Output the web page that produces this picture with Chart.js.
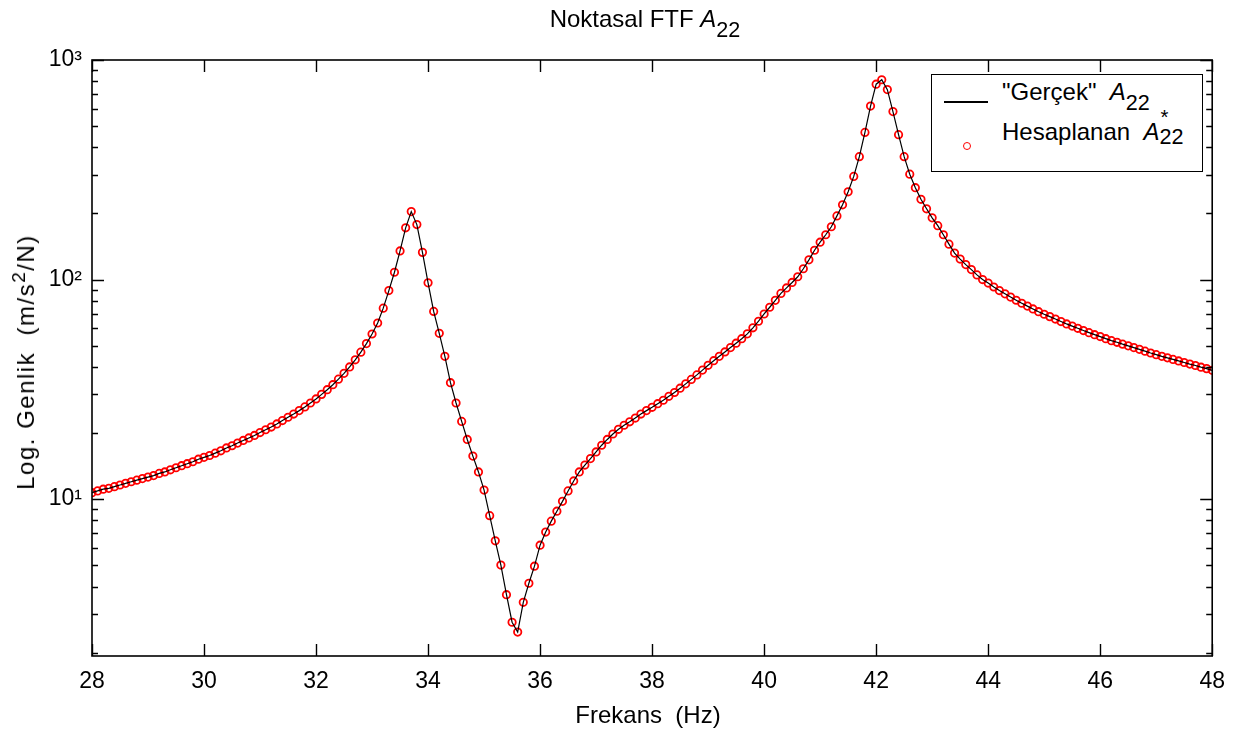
<!DOCTYPE html>
<html><head><meta charset="utf-8">
<script src="https://cdn.jsdelivr.net/npm/chart.js@4.4.0/dist/chart.umd.min.js"></script>
<style>
html,body{margin:0;padding:0;background:#fff;}
#wrap{position:relative;width:1237px;height:738px;font-family:"Liberation Sans",Arial,sans-serif;color:#000;overflow:hidden;}
canvas{position:absolute;left:0;top:0;}
.t{position:absolute;white-space:nowrap;font-size:24px;line-height:1;}
.sb{font-size:0.9em;position:relative;top:0.45em;}
.ss{display:inline-block;position:relative;width:1.15em;height:1em;vertical-align:baseline;}
.ss .up{position:absolute;left:0.05em;top:-0.45em;font-size:0.85em;}
.ss .dn{position:absolute;left:0;top:0.45em;font-size:0.9em;}
#legend{position:absolute;left:931px;top:74px;width:270px;height:96px;border:1.5px solid #000;background:#fff;}
</style></head><body>
<div id="wrap">
<canvas id="c" width="1237" height="738"></canvas>
<div class="t" id="title" style="left:0;width:1290px;text-align:center;top:7px;">Noktasal FTF <i>A</i><span class="sb">22</span></div>
<div class="t" id="xlab" style="left:0;width:1296px;text-align:center;top:703px;">Frekans&nbsp; (Hz)</div>
<div class="t" id="ylab" style="left:26px;top:362px;letter-spacing:1.5px;transform:translate(-50%,-50%) rotate(-90deg);">Log. Genlik&nbsp; (m/s<span style="font-size:0.8em;position:relative;top:-0.45em;">2</span>/N)</div>
<div id="legend">
  <div style="position:absolute;left:12px;top:26px;width:44px;height:0;border-top:2px solid #000;"></div>
  <div class="t" style="left:70px;top:5px;">"Gerçek"&nbsp; <i>A</i><span class="sb">22</span></div>
  <div style="position:absolute;left:31px;top:67px;width:6px;height:6px;border:1.5px solid #f00;border-radius:50%;"></div>
  <div class="t" style="left:70px;top:41px;">Hesaplanan&nbsp; <i>A</i><span class="ss"><span class="up">*</span><span class="dn">22</span></span></div>
</div>
</div>
<script>
const freq = [
28.0,28.1,28.2,28.3,28.4,28.5,28.6,28.7,28.8,28.9,
29.0,29.1,29.2,29.3,29.4,29.5,29.6,29.7,29.8,29.9,
30.0,30.1,30.2,30.3,30.4,30.5,30.6,30.7,30.8,30.9,
31.0,31.1,31.2,31.3,31.4,31.5,31.6,31.7,31.8,31.9,
32.0,32.1,32.2,32.3,32.4,32.5,32.6,32.7,32.8,32.9,
33.0,33.1,33.2,33.3,33.4,33.5,33.6,33.7,33.8,33.9,
34.0,34.1,34.2,34.3,34.4,34.5,34.6,34.7,34.8,34.9,
35.0,35.1,35.2,35.3,35.4,35.5,35.6,35.7,35.8,35.9,
36.0,36.1,36.2,36.3,36.4,36.5,36.6,36.7,36.8,36.9,
37.0,37.1,37.2,37.3,37.4,37.5,37.6,37.7,37.8,37.9,
38.0,38.1,38.2,38.3,38.4,38.5,38.6,38.7,38.8,38.9,
39.0,39.1,39.2,39.3,39.4,39.5,39.6,39.7,39.8,39.9,
40.0,40.1,40.2,40.3,40.4,40.5,40.6,40.7,40.8,40.9,
41.0,41.1,41.2,41.3,41.4,41.5,41.6,41.7,41.8,41.9,
42.0,42.1,42.2,42.3,42.4,42.5,42.6,42.7,42.8,42.9,
43.0,43.1,43.2,43.3,43.4,43.5,43.6,43.7,43.8,43.9,
44.0,44.1,44.2,44.3,44.4,44.5,44.6,44.7,44.8,44.9,
45.0,45.1,45.2,45.3,45.4,45.5,45.6,45.7,45.8,45.9,
46.0,46.1,46.2,46.3,46.4,46.5,46.6,46.7,46.8,46.9,
47.0,47.1,47.2,47.3,47.4,47.5,47.6,47.7,47.8,47.9,
48.0];

// "Gerçek" A22 magnitude (m/s^2/N)
const gercek = [
10.7,10.9,11.1,11.2,11.4,11.6,11.8,12.0,12.2,12.4,
12.6,12.8,13.1,13.3,13.6,13.9,14.2,14.5,14.8,15.2,
15.5,15.8,16.2,16.6,17.1,17.5,18.0,18.5,19.0,19.5,
20.1,20.7,21.3,22.0,22.8,23.6,24.4,25.3,26.3,27.4,
28.6,30.0,31.5,33.2,35.2,37.4,40.0,43.1,46.7,51.1,
56.5,63.4,74.1,89.1,108,135,172,204,178,133,
96.6,71.6,56.9,44.7,33.9,27.4,22.6,18.7,15.7,13.3,
11.0,8.41,6.46,5.01,3.67,2.75,2.48,3.39,4.14,4.95,
6.17,7.08,7.94,8.81,9.77,10.9,12.1,13.3,14.3,15.3,
16.4,17.6,18.7,19.8,20.8,21.7,22.5,23.4,24.4,25.3,
26.2,27.2,28.2,29.4,30.6,32.0,33.5,35.1,36.8,38.7,
40.7,42.7,44.7,46.8,49.0,51.3,53.8,56.6,60.3,64.6,
69.7,74.8,80.4,86.5,91.6,97.0,103,112,123,136,
148,160,174,195,219,251,295,363,468,617,
776,813,733,582,457,363,302,262,232,210,
191,176,160,145,132,124,117,111,105,100,
96.4,92.5,89.1,86.1,83.2,80.5,78.0,75.7,73.5,71.4,
69.5,67.8,66.1,64.4,62.8,61.4,60.0,58.6,57.3,56.1,
55.0,53.8,52.7,51.8,50.8,49.9,49.0,48.1,47.2,46.3,
45.5,44.7,44.0,43.3,42.6,41.9,41.2,40.6,39.9,39.3,
38.6];

// Hesaplanan A*22 (markers lie on the true curve)
const hesaplanan = gercek.slice();

const xTickValues = [28,30,32,34,36,38,40,42,44,46,48];
const yTickValues = [10,100,1000];
const yTickLabels = ['10\u00B9','10\u00B2','10\u00B3'];

const FONT = '"Liberation Sans", Arial, sans-serif';

const framePlugin = {
  id:'frame',
  afterDraw(ch){
    const {ctx, chartArea:a, scales:{x,y}} = ch;
    ctx.save();
    ctx.strokeStyle='#000';
    ctx.lineWidth=1.6;
    ctx.strokeRect(a.left, a.top, a.right-a.left, a.bottom-a.top);
    ctx.lineWidth=1.4;
    ctx.beginPath();
    xTickValues.forEach(v=>{
      const px = Math.round(x.getPixelForValue(v))+0.5;
      ctx.moveTo(px,a.bottom); ctx.lineTo(px,a.bottom-12);
      ctx.moveTo(px,a.top); ctx.lineTo(px,a.top+12);
    });
    for(let d=1; d<=1000; d*=10){
      for(let m=1; m<10; m++){
        const v=m*d;
        if(v<y.min||v>y.max) continue;
        const major = (m===1);
        const len = major?12:6;
        const py = Math.round(y.getPixelForValue(v))+0.5;
        ctx.moveTo(a.left,py); ctx.lineTo(a.left+len,py);
        ctx.moveTo(a.right,py); ctx.lineTo(a.right-len,py);
      }
    }
    ctx.stroke();
    ctx.restore();
  }
};

new Chart(document.getElementById('c'), {
  type:'line',
  data:{
    datasets:[
      {label:'"Gerçek" A22', data:freq.map((f,i)=>({x:f,y:gercek[i]})),
       borderColor:'#000', borderWidth:1.2, pointRadius:0, fill:false, tension:0},
      {label:'Hesaplanan A*22', data:freq.map((f,i)=>({x:f,y:hesaplanan[i]})),
       showLine:false, pointStyle:'circle', pointRadius:3.7, pointBorderWidth:1.8,
       pointBorderColor:'#ff0000', pointBackgroundColor:'rgba(0,0,0,0)', borderColor:'#ff0000'}
    ]
  },
  options:{
    responsive:false, animation:false, devicePixelRatio:1,
    layout:{padding:{left:0,right:22,top:60,bottom:0}},
    plugins:{legend:{display:false}, title:{display:false}, tooltip:{enabled:false}},
    scales:{
      x:{type:'linear', min:28, max:48,
        afterFit(s){ s.height=82; },
        afterBuildTicks(s){ s.ticks = xTickValues.map(v=>({value:v})); },
        grid:{display:false, drawTicks:false}, border:{display:false},
        ticks:{padding:12, color:'#000', font:{family:FONT, size:23}, maxRotation:0, autoSkip:false,
               callback:(v)=>String(v)}
      },
      y:{type:'logarithmic', min:1.93, max:1000,
        afterFit(s){ s.width=92; },
        afterBuildTicks(s){ s.ticks = yTickValues.map(v=>({value:v})); },
        grid:{display:false, drawTicks:false}, border:{display:false},
        ticks:{padding:10, color:'#000', font:{family:FONT, size:23}, autoSkip:false,
               callback:(v)=>{ const i=yTickValues.indexOf(v); return i>=0?yTickLabels[i]:''; }}
      }
    }
  },
  plugins:[framePlugin]
});
</script>
</body></html>
